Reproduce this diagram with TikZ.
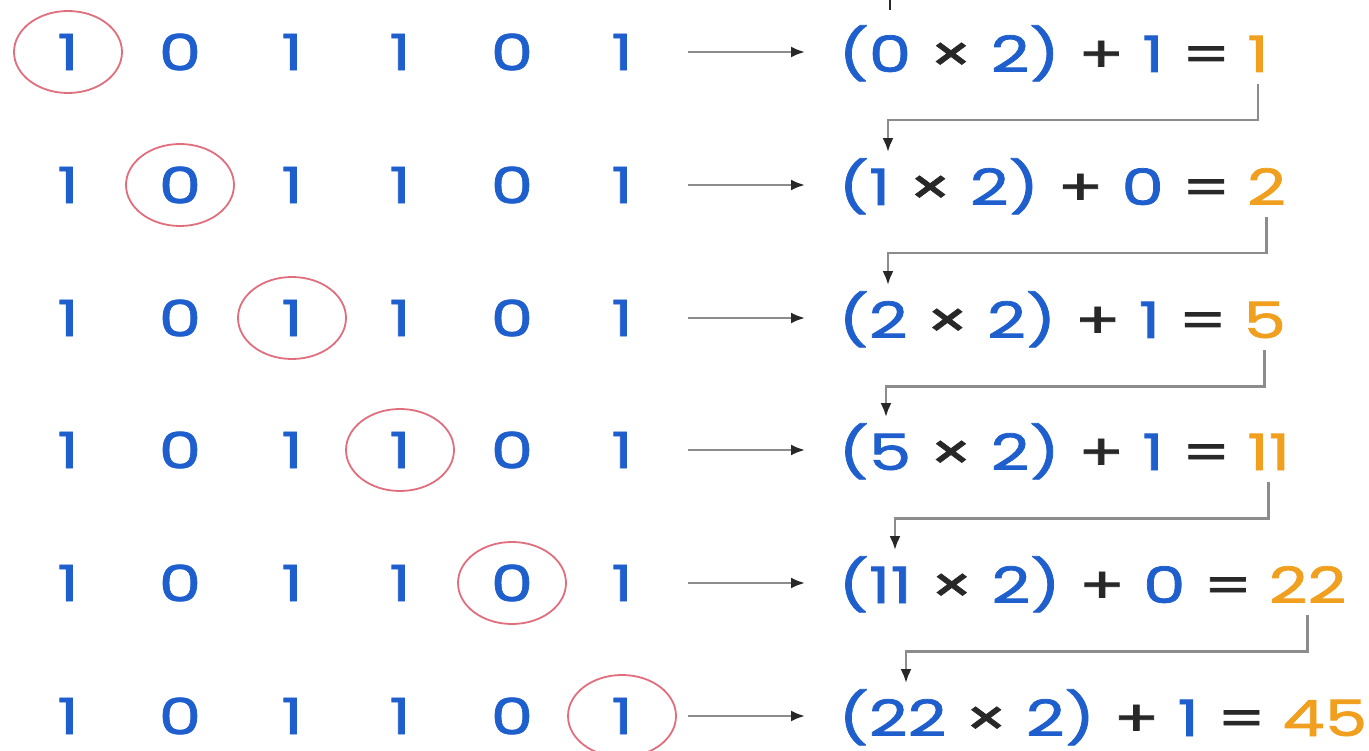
\documentclass[tikz,border=0pt]{standalone}
\usepackage{fontspec}
\setmainfont{Poppins}
\newfontfamily\numfont{Poppins}[FakeStretch=1.35, FakeBold=1.5]
\usetikzlibrary{arrows.meta, shapes.geometric}
\definecolor{digblue}{RGB}{30, 95, 205}
\definecolor{resorange}{RGB}{240, 160, 30}
\definecolor{ringred}{RGB}{225, 110, 125}
\definecolor{linegray}{RGB}{140, 140, 140}
\definecolor{opdark}{RGB}{40, 40, 40}
\newcommand{\bl}[1]{\textcolor{digblue}{#1}}

\begin{document}
\begin{tikzpicture}[x=1pt, y=-1pt,
  digit/.style={font=\numfont\fontsize{50}{60}\selectfont, text=digblue, inner sep=0pt},
  ring/.style={draw=ringred, line width=1.8pt, ellipse, minimum width=108pt, minimum height=82pt},
  eqn/.style={font=\numfont\fontsize{50}{60}\selectfont, text=opdark, anchor=base west, inner sep=0pt},
  res/.style={font=\numfont\fontsize{50}{60}\selectfont, text=resorange, anchor=base west, inner sep=0pt},
  arr/.style={draw=linegray, line width=2.4pt, shorten <=55pt, shorten >=33pt, -{Latex[length=14pt, width=11pt, color=opdark]}},
  link/.style={draw=linegray, line width=2.6pt, shorten <=12pt, shorten >=6pt, -{Latex[length=14pt, width=11pt, color=opdark]}}
]
  \useasboundingbox (0,0) rectangle (1369,751);

  % binary digits, one row per step
  \foreach \r/\y in {1/52, 2/185, 3/318, 4/450, 5/583, 6/716}
    \foreach \c/\x/\b in {1/68/1, 2/180/0, 3/292/1, 4/400/1, 5/512/0, 6/622/1}
      \node[digit] (d\r\c) at (\x,\y) {\b};

  % current digit circled
  \foreach \r in {1,...,6}
    \node[ring] (ring\r) at (d\r\r) {};

  % running value
  \node[eqn] (eq1) at (838,72) {\bl{(0} × \bl{2)} + \bl{1} =};
  \node[res] (res1) at ([xshift=16pt]eq1.base east) {1};
  \node[eqn] (eq2) at (838,205) {\bl{(1} × \bl{2)} + \bl{0} =};
  \node[res] (res2) at ([xshift=16pt]eq2.base east) {2};
  \node[eqn] (eq3) at (838,338) {\bl{(2} × \bl{2)} + \bl{1} =};
  \node[res] (res3) at ([xshift=16pt]eq3.base east) {5};
  \node[eqn] (eq4) at (838,470) {\bl{(5} × \bl{2)} + \bl{1} =};
  \node[res] (res4) at ([xshift=16pt]eq4.base east) {11};
  \node[eqn] (eq5) at (838,603) {\bl{(11} × \bl{2)} + \bl{0} =};
  \node[res] (res5) at ([xshift=16pt]eq5.base east) {22};
  \node[eqn] (eq6) at (838,736) {\bl{(22} × \bl{2)} + \bl{1} =};
  \node[res] (res6) at ([xshift=16pt]eq6.base east) {45};

  \foreach \r in {1,...,6}
    \draw[arr] (d\r6.east) -- (d\r6.east -| eq\r.west);

  % carry the result down
  \coordinate (intop) at (890,0);
  \draw[draw=opdark, line width=2.5pt] (intop) -- ++(0,10);
  \draw[link] (res1.south) -- ++(0,48) -| ([xshift=50pt]eq2.north west);
  \draw[link] (res2.south) -- ++(0,48) -| ([xshift=50pt]eq3.north west);
  \draw[link] (res3.south) -- ++(0,48) -| ([xshift=48pt]eq4.north west);
  \draw[link] (res4.south) -- ++(0,48) -| ([xshift=57pt]eq5.north west);
  \draw[link] (res5.south) -- ++(0,48) -| ([xshift=68pt]eq6.north west);
\end{tikzpicture}
\end{document}
